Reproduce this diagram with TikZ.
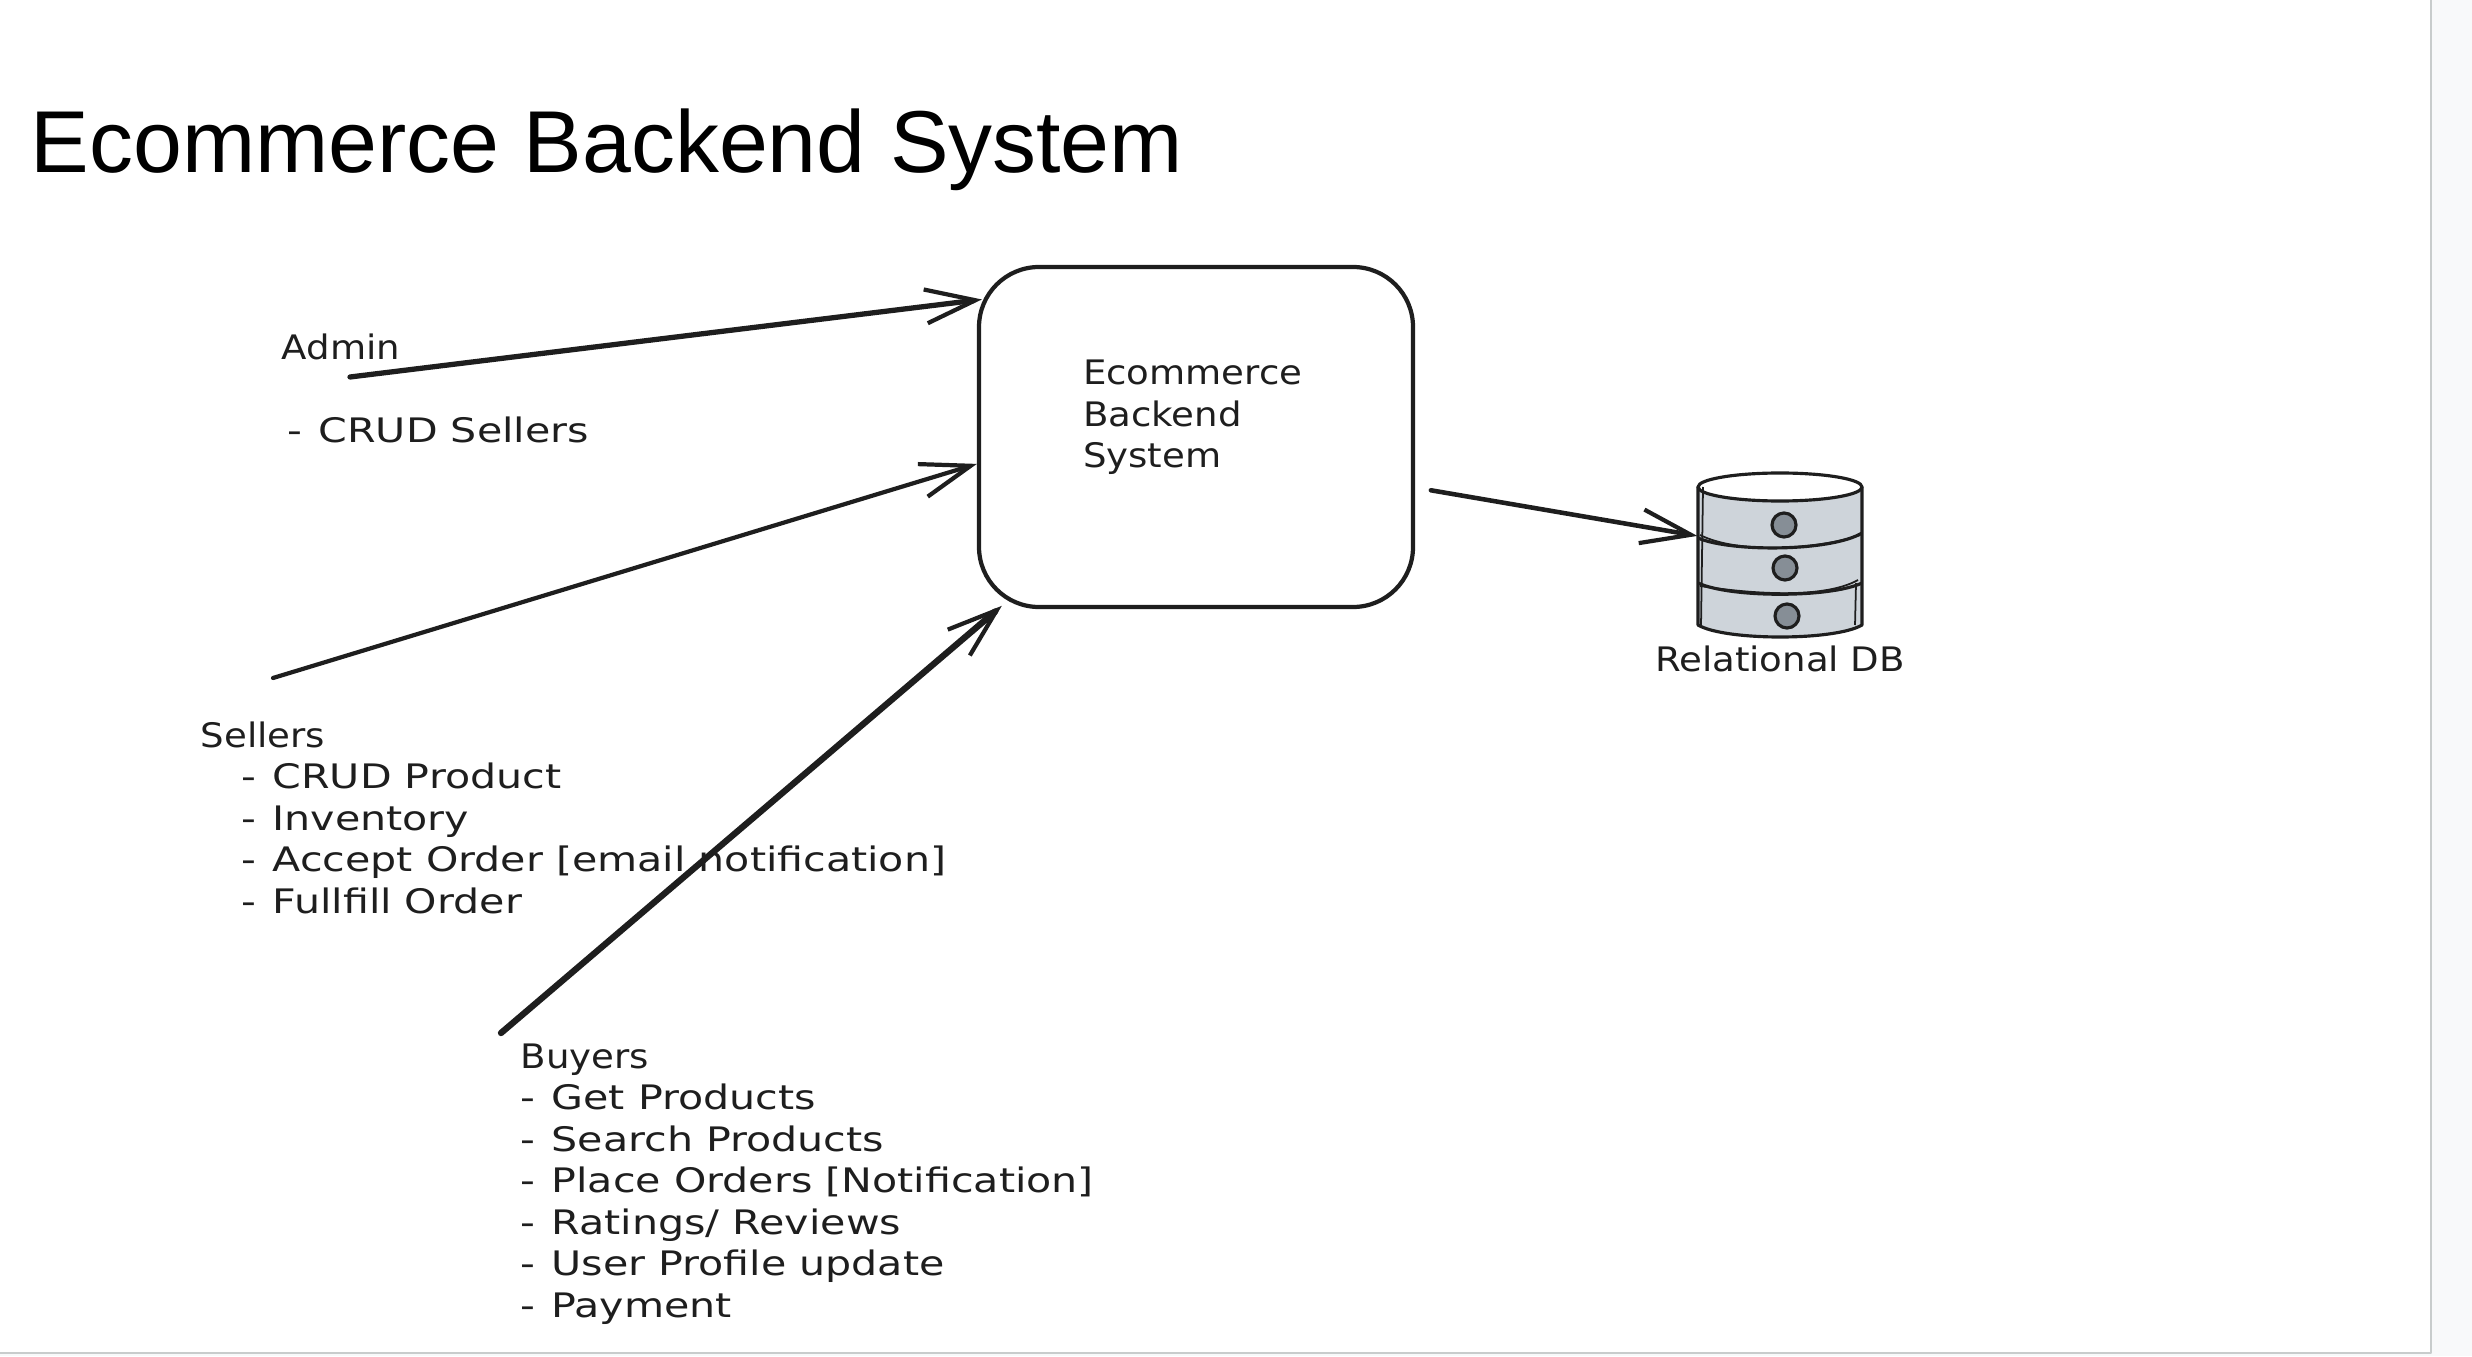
\documentclass[tikz,border=0pt]{standalone}
\usepackage{fontspec}
\setmainfont{Liberation Sans}
\newfontfamily\handfont[FakeStretch=1.10]{DejaVu Sans}
\newfontfamily\listfont[FakeStretch=1.22]{DejaVu Sans}
\newcommand{\listdash}{-\hspace{0.03cm} }
\usetikzlibrary{arrows.meta}
\definecolor{ink}{HTML}{1E1E1E}
\definecolor{dbgrey}{HTML}{CED4DA}
\definecolor{dotgrey}{HTML}{868E96}
\definecolor{rulegrey}{HTML}{C8CCCC}
\definecolor{stripgrey}{HTML}{F8F9FA}
\begin{document}
\begin{tikzpicture}[
    line join=round,
    hand text/.style={font=\listfont\fontsize{9.6}{11.8}\selectfont, text=ink, align=left, inner sep=0pt, anchor=north west},
    main box/.style={draw=ink, line width=1.2pt, rounded corners=0.6cm, minimum width=4.34cm, minimum height=3.4cm, font=\handfont\fontsize{9.6}{11.8}\selectfont, text=ink, align=left, text width=2.26cm, inner sep=0pt},
    flow/.style={draw=ink, line width=1.3pt, line cap=round, -{Straight Barb[length=0.5cm, width=0.34cm, line width=1.2pt]}},
    db line/.style={draw=ink, line width=0.9pt},
    db sketch/.style={draw=ink, line width=0.5pt}
]
    \useasboundingbox (0,0) rectangle (24.72,13.56);

    % Page edge
    \fill[stripgrey] (24.31,0) rectangle (24.72,13.56);
    \fill[stripgrey] (0,0) rectangle (24.72,0.03);
    \draw[rulegrey, line width=0.7pt] (0,0.03) -- (24.31,0.03) -- (24.31,13.56);

    % Title
    \node[anchor=base west, inner sep=0pt, font=\fontsize{25}{30}\selectfont, text=black] (title) at (0.30,11.83) {Ecommerce Backend System};

    % Main box
    \node[main box] (backend) at (11.96,9.19) {Ecommerce\\Backend\\System\\[1.2pt]\mbox{}};

    % Actors
    \node[hand text] (admin) at (2.81,10.23) {{\handfont Admin}\\[11.8pt]\hspace*{0.06cm}\listdash CRUD Sellers};
    \node[hand text] (sellers) at (2.00,6.35) {{\handfont Sellers}\\\hspace*{0.41cm}\listdash CRUD Product\\\hspace*{0.41cm}\listdash Inventory\\\hspace*{0.41cm}\listdash Accept Order [email notification]\\\hspace*{0.41cm}\listdash Fullfill Order};
    \node[hand text] (buyers) at (5.20,3.13) {{\handfont Buyers}\\\listdash Get Products\\\listdash Search Products\\\listdash Place Orders [Notification]\\\listdash Ratings/ Reviews\\\listdash User Profile update\\\listdash Payment};

    % Database
    \node[minimum width=1.64cm, minimum height=1.64cm, inner sep=0pt] (db) at (17.80,8.01) {};
    \filldraw[db line, fill=dbgrey] (16.98,8.69) -- (16.98,7.31) .. controls (17.25,7.15) and (18.35,7.15) .. (18.62,7.31) -- (18.62,8.69) -- cycle;
    \filldraw[db line, fill=white] (17.80,8.69) ellipse (0.82cm and 0.14cm);
    \draw[db line] (16.98,8.18) .. controls (17.30,8.04) and (18.30,8.04) .. (18.62,8.23);
    \draw[db line] (16.98,7.73) .. controls (17.30,7.58) and (18.30,7.58) .. (18.62,7.73);
    \draw[db sketch] (17.00,8.21) .. controls (17.40,8.01) and (18.20,8.07) .. (18.60,8.21);
    \draw[db sketch] (17.00,7.70) .. controls (17.40,7.64) and (18.20,7.55) .. (18.58,7.76);
    \draw[db sketch] (17.03,8.69) -- (17.01,7.31);
    \draw[db sketch] (18.56,7.73) -- (18.55,7.31);
    \filldraw[db line, fill=dotgrey] (17.84,8.31) circle (0.12cm);
    \filldraw[db line, fill=dotgrey] (17.85,7.88) circle (0.12cm);
    \filldraw[db line, fill=dotgrey] (17.87,7.40) circle (0.12cm);
    \node[font=\handfont\fontsize{9.6}{11.8}\selectfont, text=ink, inner sep=0pt] (dblabel) at (17.80,6.97) {Relational DB};

    % Free ends of the arrows
    \coordinate (adminend) at (3.50,9.79);
    \coordinate (sellersend) at (2.73,6.78);
    \coordinate (buyersend) at (5.01,3.23);

    \draw[flow, line width=1.5pt, shorten >=-0.05cm] (adminend) -- (backend.148);
    \draw[flow, line width=1.2pt] (sellersend) -- (backend.187);
    \draw[flow, line width=1.8pt, shorten >=-0.05cm] (buyersend) -- (backend.221);
    \draw[flow, shorten <=0.16cm] (backend.-13) -- (db.167);

\end{tikzpicture}
\end{document}
